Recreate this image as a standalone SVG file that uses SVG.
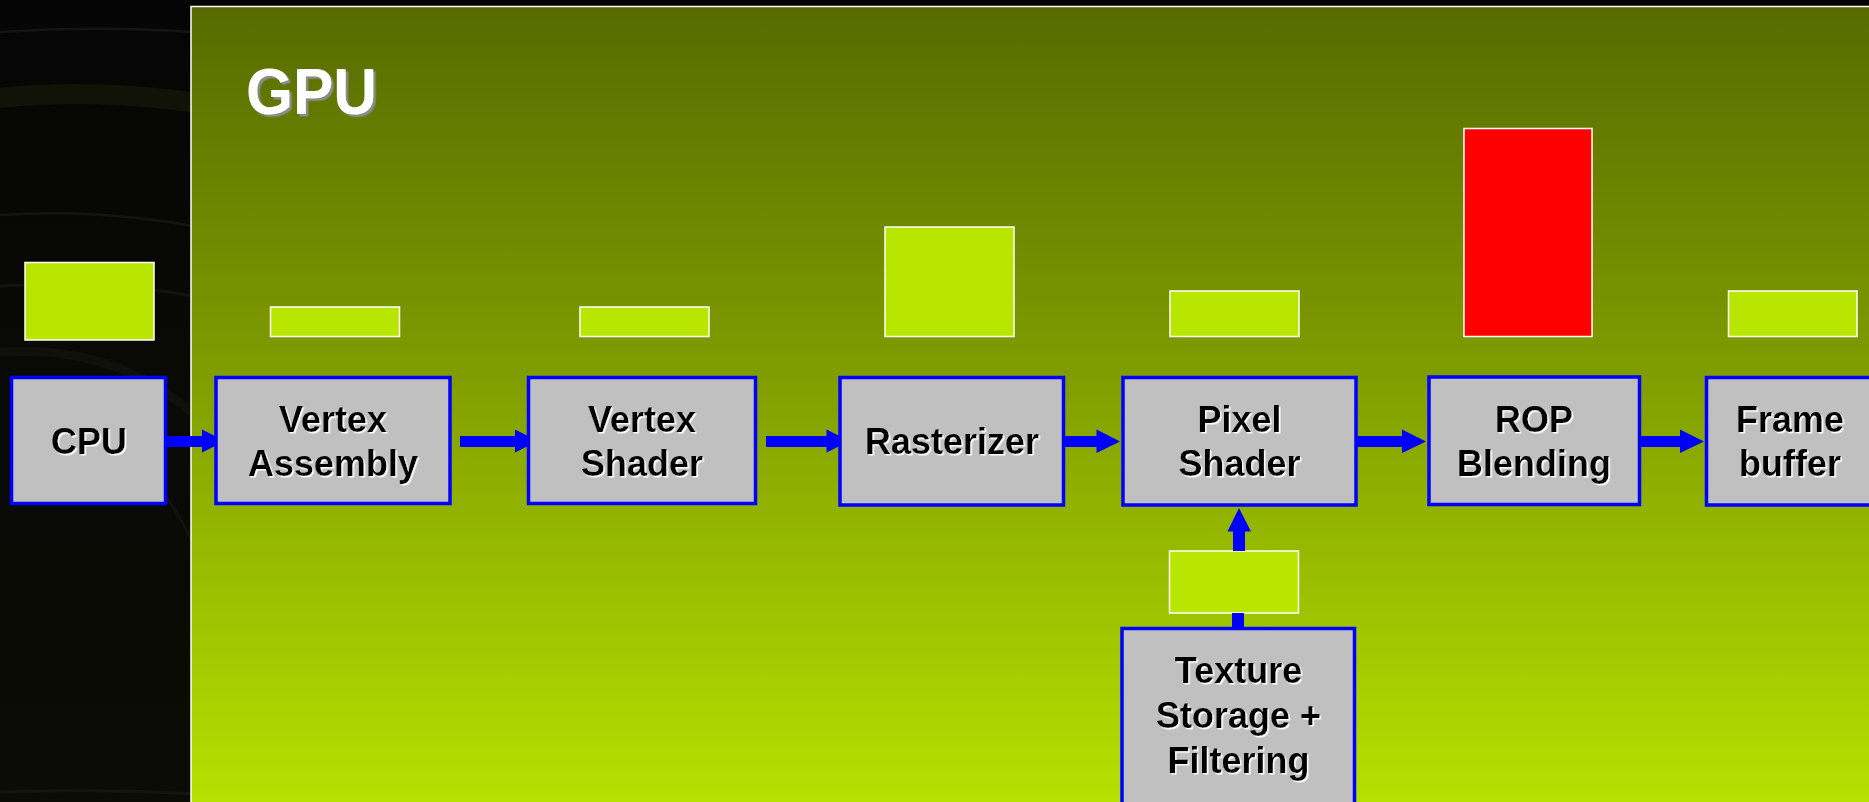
<svg xmlns="http://www.w3.org/2000/svg" width="1869" height="802" viewBox="0 0 1869 802">
<defs>
<linearGradient id="panelGrad" x1="0" y1="0" x2="0" y2="1">
<stop offset="0" stop-color="#576a00"/>
<stop offset="0.45" stop-color="#7f9c00"/>
<stop offset="1" stop-color="#b6e200"/>
</linearGradient>
<linearGradient id="bgGrad" x1="0" y1="0" x2="0" y2="1">
<stop offset="0" stop-color="#050505"/>
<stop offset="0.5" stop-color="#090905"/>
<stop offset="1" stop-color="#0c0c06"/>
</linearGradient>
<filter id="wshadow" x="-10%" y="-10%" width="130%" height="130%">
<feDropShadow dx="1.5" dy="1.5" stdDeviation="0" flood-color="#ffffff" flood-opacity="1"/>
</filter>
<filter id="gshadow" x="-10%" y="-10%" width="130%" height="130%">
<feDropShadow dx="2.5" dy="2.5" stdDeviation="0" flood-color="#8c8c8c" flood-opacity="1"/>
</filter>
</defs>
<style>
.box{fill:#c0c0c0;stroke:#0000ff;stroke-width:3.5}
.bar{fill:#b8e600;stroke:#ffffff;stroke-width:1.5}
.red{fill:#ff0000;stroke:#ffffff;stroke-width:1.5}
.lbl{font-family:"Liberation Sans",Arial,sans-serif;font-weight:bold;font-size:36px;fill:#000000;text-anchor:middle;filter:url(#wshadow)}
.title{font-family:"Liberation Sans",Arial,sans-serif;font-weight:bold;font-size:65px;fill:#ffffff;filter:url(#gshadow)}
.arrow{fill:#0000ff}
.swoosh{fill:none;stroke-linecap:round}
</style>

<!-- background -->
<rect x="0" y="0" width="1869" height="802" fill="url(#bgGrad)"/>
<g id="background-swooshes">
<path class="swoosh" d="M0,32 Q120,24 240,36" stroke="#242424" stroke-width="2.5" opacity="0.5"/>
<path class="swoosh" d="M0,98 Q110,86 240,110" stroke="#191c08" stroke-width="20" opacity="0.6"/>
<path class="swoosh" d="M0,215 Q120,207 240,236" stroke="#222222" stroke-width="2.5" opacity="0.5"/>
<path class="swoosh" d="M0,286 Q130,278 240,306" stroke="#1c1c1c" stroke-width="3" opacity="0.5"/>
<path class="swoosh" d="M0,352 Q120,344 200,420" stroke="#171710" stroke-width="9" opacity="0.5"/>
<path class="swoosh" d="M30,420 Q150,432 200,560" stroke="#1a1a1a" stroke-width="2.5" opacity="0.5"/>
<path class="swoosh" d="M0,792 Q100,788 200,794" stroke="#1c1c1c" stroke-width="3" opacity="0.5"/>
</g>

<!-- GPU panel -->
<g id="gpu-panel">
<rect x="191" y="6.5" width="1690" height="800" fill="url(#panelGrad)" stroke="#ffffff" stroke-width="1.5"/>
<text class="title" x="246" y="114" textLength="131" lengthAdjust="spacingAndGlyphs">GPU</text>
</g>

<!-- load bars -->
<g id="bars">
<rect id="bar-cpu" class="bar" x="25" y="262.5" width="129" height="77.5"/>
<rect id="bar-va" class="bar" x="270.5" y="307" width="129" height="29.5"/>
<rect id="bar-vs" class="bar" x="580" y="307" width="129" height="29.5"/>
<rect id="bar-rast" class="bar" x="885" y="227" width="129" height="109.5"/>
<rect id="bar-ps" class="bar" x="1170" y="291" width="129" height="45.5"/>
<rect id="bar-rop" class="red" x="1464" y="128.5" width="128" height="208"/>
<rect id="bar-fb" class="bar" x="1728.5" y="291" width="128.5" height="45.5"/>
<rect id="bar-tex" class="bar" x="1169.5" y="551" width="129" height="62"/>
</g>

<!-- connectors -->
<g id="connectors">
<polygon class="arrow" points="166,436 202,436 202,429.5 225,441 202,452.5 202,447 166,447"/>
<polygon class="arrow" points="460,436 515,436 515,429.5 538,441 515,452.5 515,447 460,447"/>
<polygon class="arrow" points="766,436 826.5,436 826.5,429.5 849.5,441 826.5,452.5 826.5,447 766,447"/>
<polygon class="arrow" points="1064,436 1096.5,436 1096.5,429.5 1120,441.5 1096.5,453 1096.5,447 1064,447"/>
<polygon class="arrow" points="1356,436 1402,436 1402,429.5 1426,441.5 1402,453 1402,447 1356,447"/>
<polygon class="arrow" points="1637,436 1680,436 1680,429.5 1704,441.5 1680,453 1680,447 1637,447"/>
<polygon class="arrow" points="1233,551 1233,531.5 1227.5,531.5 1239,508 1251,531.5 1245,531.5 1245,551"/>
<rect class="arrow" x="1232" y="613" width="12" height="18"/>
</g>

<!-- nodes -->
<g id="node-cpu">
<rect class="box" x="11.5" y="377.5" width="154" height="126"/>
<text class="lbl" x="89" y="454">CPU</text>
</g>
<g id="node-vertex-assembly">
<rect class="box" x="216" y="377.5" width="234" height="126"/>
<text class="lbl" x="333" y="431.5">Vertex</text>
<text class="lbl" x="333" y="475.5">Assembly</text>
</g>
<g id="node-vertex-shader">
<rect class="box" x="528.5" y="377.5" width="227" height="126"/>
<text class="lbl" x="642" y="431.5">Vertex</text>
<text class="lbl" x="642" y="475.5">Shader</text>
</g>
<g id="node-rasterizer">
<rect class="box" x="840" y="377.5" width="223.5" height="127.5"/>
<text class="lbl" x="952" y="454">Rasterizer</text>
</g>
<g id="node-pixel-shader">
<rect class="box" x="1123" y="377.5" width="233" height="127.5"/>
<text class="lbl" x="1239.5" y="431.5">Pixel</text>
<text class="lbl" x="1239.5" y="476">Shader</text>
</g>
<g id="node-rop-blending">
<rect class="box" x="1429" y="377" width="210.5" height="127.5"/>
<text class="lbl" x="1534" y="431.5">ROP</text>
<text class="lbl" x="1534" y="476">Blending</text>
</g>
<g id="node-frame-buffer">
<rect class="box" x="1706.5" y="377.5" width="175" height="127.5"/>
<text class="lbl" x="1790" y="431.5">Frame</text>
<text class="lbl" x="1790" y="476">buffer</text>
</g>
<g id="node-texture">
<rect class="box" x="1122" y="628.5" width="232.5" height="200"/>
<text class="lbl" x="1238.5" y="683">Texture</text>
<text class="lbl" x="1238.5" y="728">Storage +</text>
<text class="lbl" x="1238.5" y="773">Filtering</text>
</g>
</svg>
